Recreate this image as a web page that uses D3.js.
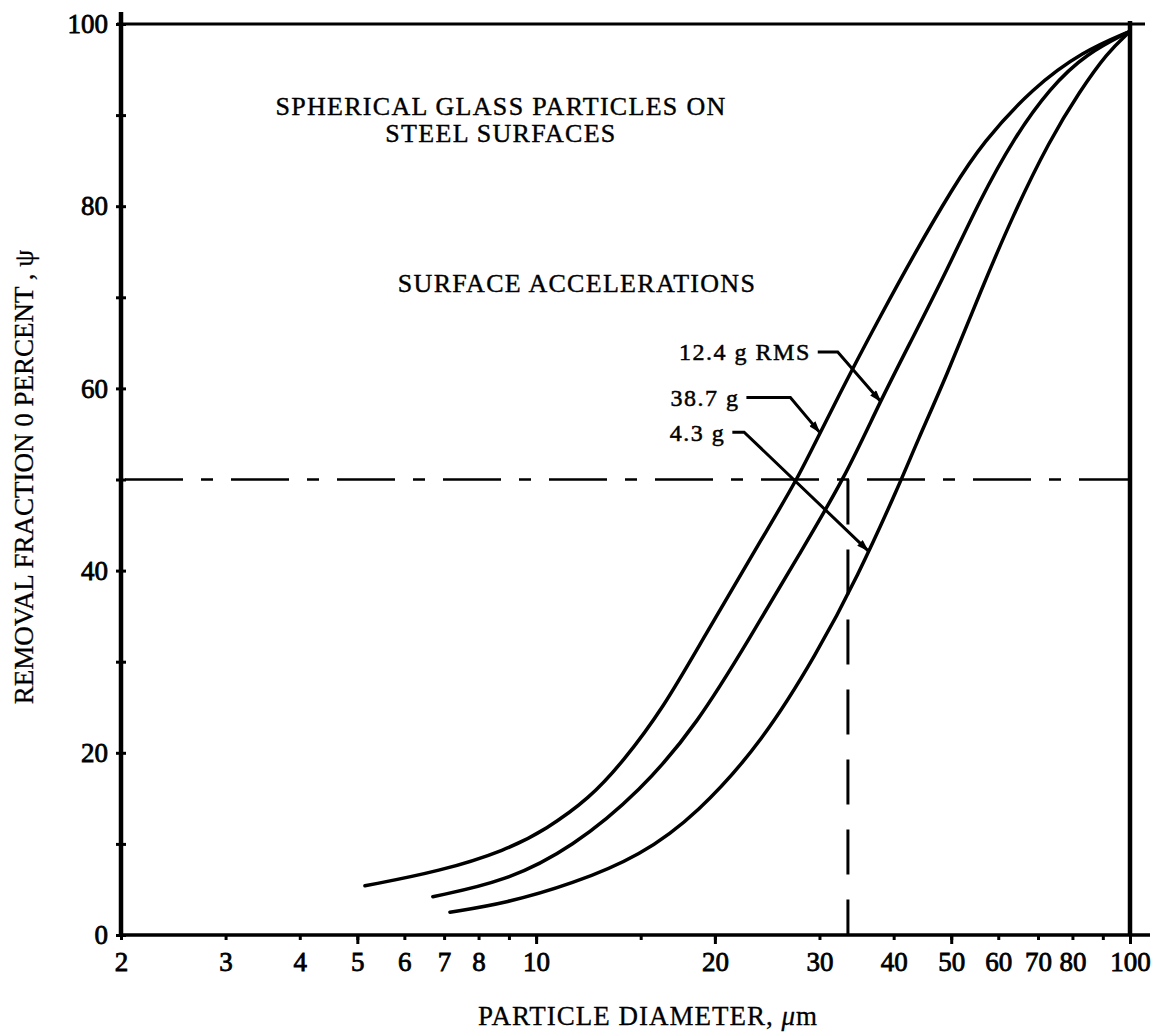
<!DOCTYPE html>
<html>
<head>
<meta charset="utf-8">
<script src="https://cdn.jsdelivr.net/npm/d3@7"></script>
<style>
  body { margin: 0; background: #fff; }
  text { font-family: "Liberation Serif", "Times New Roman", serif; fill: #000; }
</style>
</head>
<body>
<div id="chart"></div>
<script>
// Curve data: particle diameter (um) vs removal fraction (%)
var diam387 = [5.15, 6.9, 8.9, 10.4, 12.3, 14.0, 16.4, 18.9, 24.5, 27.5, 30.0, 34.0, 37.9, 43.1, 50.3, 56.5, 68.6, 83.3, 100];
var psi387 = [5.4, 7.0, 9.3, 11.6, 15.0, 19.0, 25.0, 32.0, 44.5, 50.0, 55.0, 62.0, 67.8, 74.5, 82.0, 87.0, 93.0, 97.0, 99.2];

var diam124 = [6.7, 8.9, 11.5, 15.0, 18.7, 22.9, 27.8, 33.1, 37.9, 43.1, 49.2, 55.9, 63.5, 73.3, 84.6, 100];
var psi124 = [4.2, 5.9, 9.6, 15.8, 23.2, 32.6, 41.9, 50.2, 58.5, 65.6, 73.0, 80.7, 87.3, 93.0, 96.8, 99.2];

var diam43 = [7.16, 8.9, 11.5, 15.0, 18.7, 24.1, 29.7, 34.7, 41.0, 43.7, 49.2, 55.9, 63.5, 73.3, 82.3, 91.4, 100];
var psi43 = [2.5, 3.5, 5.6, 8.7, 13.3, 21.3, 30.9, 39.2, 49.6, 54.0, 61.5, 70.5, 79.0, 87.3, 92.6, 96.8, 99.2];

var seriesNames = ["12.4 g RMS", "38.7 g", "4.3 g"];

// Tick values
var xTickValues = [2, 3, 4, 5, 6, 7, 8, 9, 10, 15, 20, 30, 40, 50, 60, 70, 80, 90, 100];
var xMajorTicks = [5, 10, 20, 50, 100];
var xTickLabels = [2, 3, 4, 5, 6, 7, 8, 10, 20, 30, 40, 50, 60, 70, 80, 100];
var yTickValues = [0, 10, 20, 30, 40, 50, 60, 70, 80, 90, 100];
var yTickLabels = [0, 20, 40, 60, 80, 100];

// 50 % removal reference and the matching diameter
var halfRemoval = 50;
var criticalDiam = 33.5;

// leader lines for the labels, in data units [diameter, percent]
var leader124 = [[29.8, 64.0], [32.2, 64.0], [38.0, 58.6]];
var leader387 = [[22.6, 59.0], [26.8, 59.0], [30.0, 55.2]];
var leader43 = [[21.4, 55.2], [22.4, 55.2], [36.2, 42.2]];

// Define SVG area dimensions
var svgWidth = 1161;
var svgHeight = 1032;

var margin = {
  top: 24,
  right: 31,
  bottom: 97,
  left: 121
};

var chartWidth = svgWidth - margin.left - margin.right;
var chartHeight = svgHeight - margin.top - margin.bottom;

var svg = d3
  .select("#chart")
  .append("svg")
  .attr("width", svgWidth)
  .attr("height", svgHeight)
  .style("background", "#fff");

var chartGroup = svg
  .append("g")
  .attr("transform", `translate(${margin.left}, ${margin.top})`);

// scales
var xLogScale = d3.scaleLog().domain([2, 100]).range([0, chartWidth]);
var yLinearScale = d3.scaleLinear().domain([0, 100]).range([chartHeight, 0]);

// arrow head marker
svg.append("defs")
  .append("marker")
  .attr("id", "arrow")
  .attr("viewBox", "0 0 12 8")
  .attr("refX", 11)
  .attr("refY", 4)
  .attr("markerWidth", 13)
  .attr("markerHeight", 8)
  .attr("markerUnits", "userSpaceOnUse")
  .attr("orient", "auto")
  .append("path")
  .attr("d", "M0,0L12,4L0,8Z")
  .attr("fill", "#000");

// x axis ticks (minor, major, labels)
var minorAxis = d3.axisBottom(xLogScale)
  .tickValues(xTickValues)
  .tickSize(5)
  .tickFormat("");
var majorAxis = d3.axisBottom(xLogScale)
  .tickValues(xMajorTicks)
  .tickSize(9)
  .tickFormat("");
var labelAxis = d3.axisBottom(xLogScale)
  .tickValues(xTickLabels)
  .tickSize(0)
  .tickPadding(17)
  .tickFormat(d3.format("d"));

[minorAxis, majorAxis, labelAxis].forEach(function(ax) {
  chartGroup.append("g")
    .classed("x-axis", true)
    .attr("transform", `translate(0, ${chartHeight})`)
    .call(ax);
});

// y axis ticks on both sides of the line
chartGroup.append("g")
  .call(d3.axisLeft(yLinearScale).tickValues(yTickValues).tickSize(5).tickFormat(""));
chartGroup.append("g")
  .call(d3.axisRight(yLinearScale).tickValues(yTickValues).tickSize(5).tickFormat(""));
chartGroup.append("g")
  .classed("y-axis", true)
  .call(d3.axisLeft(yLinearScale).tickValues(yTickLabels).tickSize(0).tickPadding(13).tickFormat(d3.format("d")));

chartGroup.selectAll(".domain").remove();
chartGroup.selectAll(".tick line").attr("stroke", "#000").attr("stroke-width", 3);
chartGroup.selectAll(".tick text")
  .attr("font-family", "Liberation Serif, Times New Roman, serif")
  .attr("font-size", 27)
  .attr("fill", "#000")
  .attr("stroke", "#000")
  .attr("stroke-width", 0.8);

// frame
var frame = [
  [0, -12, 0, chartHeight + 1, 4.5],
  [-4, 0, chartWidth + 15, 0, 3],
  [chartWidth, -3, chartWidth, chartHeight + 1, 4.5],
  [-2, chartHeight, chartWidth + 20, chartHeight, 3.5]
];
chartGroup.selectAll("line.frame")
  .data(frame)
  .enter()
  .append("line")
  .classed("frame", true)
  .attr("x1", d => d[0])
  .attr("y1", d => d[1])
  .attr("x2", d => d[2])
  .attr("y2", d => d[3])
  .attr("stroke", "#000")
  .attr("stroke-width", d => d[4]);

// 50 % dashed line and the diameter drop line
chartGroup.append("line")
  .attr("x1", 4)
  .attr("x2", xLogScale(100))
  .attr("y1", yLinearScale(halfRemoval))
  .attr("y2", yLinearScale(halfRemoval))
  .attr("stroke", "#000")
  .attr("stroke-width", 2.5)
  .attr("stroke-dasharray", "58,18,12,18");

chartGroup.append("line")
  .attr("x1", xLogScale(criticalDiam))
  .attr("x2", xLogScale(criticalDiam))
  .attr("y1", yLinearScale(halfRemoval))
  .attr("y2", yLinearScale(0))
  .attr("stroke", "#000")
  .attr("stroke-width", 3)
  .attr("stroke-dasharray", "45,25");

// curves
var lineGen = d3.line()
  .x(d => xLogScale(d[0]))
  .y(d => yLinearScale(d[1]))
  .curve(d3.curveBasis);

var curves = [
  d3.zip(diam124, psi124),
  d3.zip(diam387, psi387),
  d3.zip(diam43, psi43)
];

chartGroup.selectAll("path.curve")
  .data(curves)
  .enter()
  .append("path")
  .classed("curve", true)
  .attr("d", lineGen)
  .attr("fill", "none")
  .attr("stroke", "#000")
  .attr("stroke-width", 3.5)
  .attr("stroke-linecap", "round");

// labels with leader arrows
var leaders = [leader124, leader387, leader43];
var leaderLine = d3.line()
  .x(d => xLogScale(d[0]))
  .y(d => yLinearScale(d[1]));

leaders.forEach(function(pts, i) {
  chartGroup.append("path")
    .attr("d", leaderLine(pts))
    .attr("fill", "none")
    .attr("stroke", "#000")
    .attr("stroke-width", 3)
    .attr("marker-end", "url(#arrow)");

  chartGroup.append("text")
    .attr("x", xLogScale(pts[0][0]) - 7)
    .attr("y", yLinearScale(pts[0][1]))
    .attr("dy", "0.35em")
    .attr("text-anchor", "end")
    .attr("font-size", 24)
    .attr("letter-spacing", 1.5)
    .attr("stroke", "#000")
    .attr("stroke-width", 0.5)
    .text(seriesNames[i]);
});

// titles inside the plot
var notes = [
  ["SPHERICAL GLASS PARTICLES ON", 501 - margin.left, 115 - margin.top],
  ["STEEL SURFACES", 501 - margin.left, 142 - margin.top],
  ["SURFACE ACCELERATIONS", 577 - margin.left, 292 - margin.top]
];
chartGroup.selectAll("text.note")
  .data(notes)
  .enter()
  .append("text")
  .classed("note", true)
  .attr("x", d => d[1])
  .attr("y", d => d[2])
  .attr("text-anchor", "middle")
  .attr("font-size", 26)
  .attr("letter-spacing", 1.3)
  .attr("stroke", "#000")
  .attr("stroke-width", 0.4)
  .text(d => d[0]);

// axis titles
var xTitle = svg.append("text")
  .attr("x", 648)
  .attr("y", 1025)
  .attr("text-anchor", "middle")
  .attr("font-size", 27)
  .attr("letter-spacing", 1)
  .attr("stroke", "#000")
  .attr("stroke-width", 0.3);
xTitle.append("tspan").text("PARTICLE DIAMETER, ");
xTitle.append("tspan").attr("font-style", "italic").text("μ");
xTitle.append("tspan").text("m");

svg.append("text")
  .attr("transform", "translate(33, 477) rotate(-90)")
  .attr("text-anchor", "middle")
  .attr("font-size", 27)
  .attr("stroke", "#000")
  .attr("stroke-width", 0.3)
  .text("REMOVAL FRACTION 0 PERCENT , ψ");
</script>
</body>
</html>
